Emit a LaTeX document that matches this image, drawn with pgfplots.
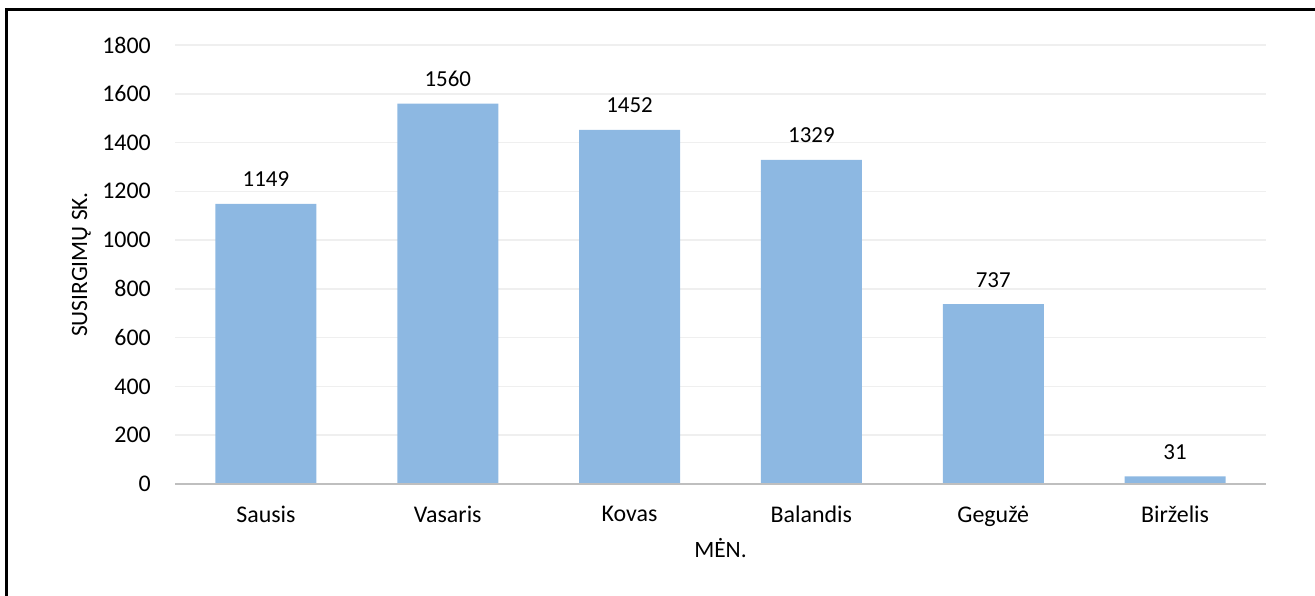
\documentclass[border=0pt]{standalone}
\usepackage{fontspec}
\setmainfont{Carlito}
\usepackage{pgfplots}
\pgfplotsset{compat=1.18}
\definecolor{barblue}{HTML}{8DB8E2}
\definecolor{gridgray}{HTML}{EFEFEF}
\definecolor{axisgray}{HTML}{BFBFBF}
\begin{document}
\begin{tikzpicture}[x=1bp,y=1bp]
\useasboundingbox (0,0) rectangle (1315,596);
\begin{scope}
\clip (0,0) rectangle (1315,596);
\draw[line width=3bp, black] (6,-20) -- (6,586) -- (1340,586);
\end{scope}
\begin{axis}[
  at={(175bp,112bp)}, anchor=south west,
  scale only axis,
  width=1091bp, height=439bp,
  xmin=-0.5, xmax=5.5, ymin=0, ymax=1800,
  ytick={0,200,...,1800},
  xtick=data,
  xticklabels={Sausis,Vasaris,Kovas,Balandis,Gegužė,Birželis},
  axis line style={draw=none},
  major tick length=0pt,
  tick style={draw=none},
  ymajorgrids,
  grid style={gridgray, line width=1.5bp},
  /pgf/number format/.cd, assume math mode=true, 1000 sep={},
  /pgfplots/.cd,
  yticklabel style={font=\fontsize{24}{28}\selectfont, anchor=east, inner sep=0pt, xshift=-24bp, text=black},
  xticklabel style={font=\fontsize{24}{28}\selectfont, anchor=north, inner sep=0pt, yshift=-22bp, text=black},
  xlabel={MĖN.},
  ylabel={SUSIRGIMŲ SK.},
  xlabel style={font=\fontsize{23.5}{27}\selectfont, at={([yshift=-74bp]axis description cs:0.5,0)}, anchor=base, inner sep=0pt},
  ylabel style={font=\fontsize{23.5}{27}\selectfont, at={([xshift=-88bp]axis description cs:0,0.5)}, anchor=base, inner sep=0pt},
  nodes near coords,
  every node near coord/.append style={font=\fontsize{23}{27}\selectfont, anchor=base, yshift=17bp, inner sep=0pt, text=black},
  clip=false,
]
\addplot[ybar, bar width=101bp, fill=barblue, draw=none] coordinates {
  (0,1149) (1,1560) (2,1452) (3,1329) (4,737) (5,31)
};
\draw[axisgray, line width=2.5bp] (axis cs:-0.5,0) -- (axis cs:5.5,0);
\end{axis}
\end{tikzpicture}
\end{document}
